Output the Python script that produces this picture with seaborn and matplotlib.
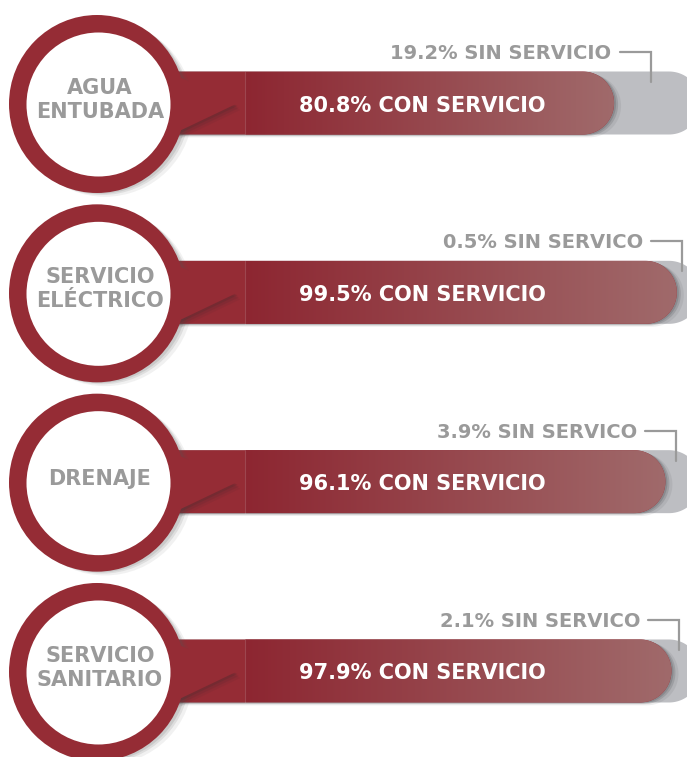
import numpy as np
import pandas as pd
import matplotlib.pyplot as plt
import seaborn as sns
from matplotlib.patches import Polygon, Ellipse
from matplotlib.colors import LinearSegmentedColormap

# ---- data ----
servicios = ["AGUA\nENTUBADA", "SERVICIO\nELÉCTRICO", "DRENAJE", "SERVICIO\nSANITARIO"]
con_servicio = [80.8, 99.5, 96.1, 97.9]
sin_servicio = [19.2, 0.5, 3.9, 2.1]
sin_texto = ["SIN SERVICIO", "SIN SERVICO", "SIN SERVICO", "SIN SERVICO"]

df = pd.DataFrame({"servicio": servicios, "con": con_servicio, "sin": sin_servicio})
df["total"] = df["con"] + df["sin"]

# ---- colours ----
RED = "#952C35"
GRAY_BAR = "#BDBEC2"
GRAY_TXT = "#9A9A9A"
grad = LinearSegmentedColormap.from_list("grad", ["#8D2631", "#A06A6B"])

# ---- canvas geometry (pixels of the 687x757 picture) ----
W, H = 687, 757
PX_X = 3.355          # px per percentage point
X0_PX = 343           # px where 0 % falls
ROW0_PX, ROW_STEP = 103, 189.33

sns.set_style("white")
plt.rcParams["font.family"] = ["DejaVu Sans"]


def px_x(p):
    return (p - X0_PX) / PX_X


def dx(p):
    return p / PX_X


def dy(p):
    return p / ROW_STEP


XL, XR = px_x(0), px_x(W)
BAR_H = dy(63)
BAR_START = px_x(150)
GRAD_START = px_x(245)
OVERHANG = dx(22)


def capsule(x_end, yc, h, x_start=BAR_START, ox=0.0, oy=0.0):
    ry = h / 2
    rx = ry * ROW_STEP / PX_X
    t = np.linspace(-np.pi / 2, np.pi / 2, 60)
    xs = x_end - rx + rx * np.cos(t) + ox
    ys = yc + ry * np.sin(t) + oy
    pts = [(x_start + ox, yc - ry + oy)] + list(zip(xs, ys)) + [(x_start + ox, yc + ry + oy)]
    return np.array(pts)


fig = plt.figure(figsize=(W / 100, H / 100), dpi=100)
ax = fig.add_axes([0, 0, 1, 1])

sns.barplot(data=df, x="total", y="servicio", orient="h", color=GRAY_BAR,
            width=BAR_H, errorbar=None, ax=ax)
n = len(ax.patches)
sns.barplot(data=df, x="con", y="servicio", orient="h", color=RED,
            width=BAR_H, errorbar=None, ax=ax)
rects = list(ax.patches)
gray_rects, red_rects = rects[:n], rects[n:]

for i, (g, r) in enumerate(zip(gray_rects, red_rects)):
    g.set_visible(False)
    r.set_visible(False)
    yc = r.get_y() + r.get_height() / 2
    h = r.get_height()
    val = r.get_width()

    # grey track
    ax.add_patch(Polygon(capsule(g.get_width() + OVERHANG, yc, h), closed=True,
                         fc=GRAY_BAR, ec="none", zorder=1))
    # soft shadow of red bar
    for k, a in [(7, 0.10), (4, 0.20), (2, 0.25)]:
        ax.add_patch(Polygon(capsule(val, yc, h, ox=dx(k), oy=dy(k * 0.4)), closed=True,
                             fc="#505055", ec="none", alpha=a, zorder=2))
    red = Polygon(capsule(val, yc, h), closed=True, fc=RED, ec="none", zorder=3)
    ax.add_patch(red)
    img = ax.imshow(np.linspace(0, 1, 256)[None, :], cmap=grad, aspect="auto",
                    extent=[GRAD_START, val, yc + h / 2, yc - h / 2], zorder=3.2)
    img.set_clip_path(red)
    ax.plot([GRAD_START, GRAD_START], [yc - h / 2, yc + h / 2], color="white",
            alpha=0.15, lw=0.8, zorder=3.3)

    # circle shadow
    cx, cy = px_x(97), yc + dy(1)
    for k, a in [(8, 0.08), (5, 0.12), (3, 0.15)]:
        ax.add_patch(Ellipse((cx + dx(k), cy + dy(k * 0.6)), 2 * dx(88), 2 * dy(88),
                             fc="#555555", ec="none", alpha=a, zorder=4))
    # pointer triangle with blurred shadow
    tri = [(px_x(150), yc + dy(-40)), (px_x(236), yc + dy(1)), (px_x(150), yc + dy(42))]
    for k, a in [(6, 0.08), (4, 0.12), (2, 0.18)]:
        ax.add_patch(Polygon([(x + dx(k * 0.7), y + dy(k)) for x, y in tri], closed=True,
                             fc="#3a2a2c", ec="none", alpha=a, zorder=4.5))
    ax.add_patch(Polygon(tri, closed=True, fc=RED, ec="none", zorder=4.6))
    # ring
    ax.add_patch(Ellipse((cx, cy), 2 * dx(88), 2 * dy(89), fc=RED, ec="none", zorder=5))
    ax.add_patch(Ellipse((cx + dx(1.5), cy + dy(0.5)), 2 * dx(72), 2 * dy(72),
                         fc="white", ec="none", zorder=6))
    ax.text(px_x(100), yc + dy(-3), servicios[i], ha="center", va="center",
            fontsize=15, fontweight="bold", color=GRAY_TXT, linespacing=1.25, zorder=7)

    # value inside bar
    ax.text(px_x(299), yc + dy(8.5), f"{val:.1f}% CON SERVICIO", ha="left",
            va="baseline", fontsize=15, fontweight="bold", color="white", zorder=7)

    # "sin servicio" bracket
    bx = (val + XR) / 2
    y_line = yc + dy(-51)
    ax.plot([bx - dx(31), bx, bx], [y_line, y_line, yc + dy(-21)],
            color=GRAY_TXT, lw=1.6, solid_joinstyle="miter", zorder=7)
    ax.text(bx - dx(31) - dx(8), yc + dy(-44), f"{sin_servicio[i]}% {sin_texto[i]}",
            ha="right", va="baseline", fontsize=14, fontweight="bold",
            color=GRAY_TXT, zorder=7)

ax.set_xlim(XL, XR)
ax.set_ylim((H - ROW0_PX) / ROW_STEP, -ROW0_PX / ROW_STEP)
ax.axis("off")

fig.savefig("out.png", dpi=100)
